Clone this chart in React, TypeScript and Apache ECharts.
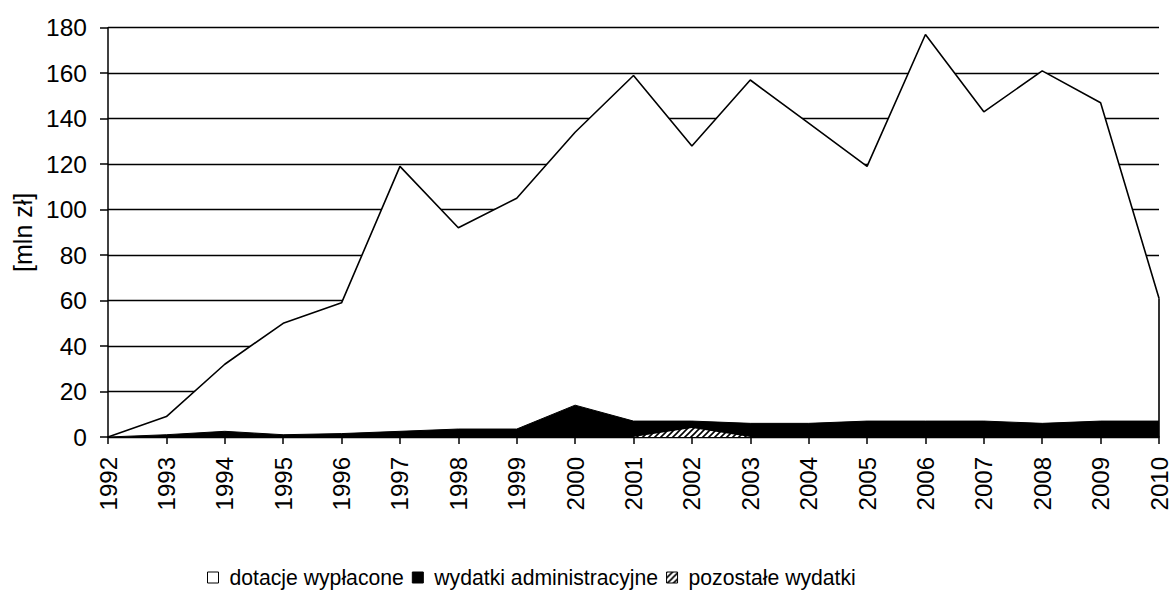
import React, { useEffect, useRef } from "react";
import * as echarts from "echarts";

const years = ["1992","1993","1994","1995","1996","1997","1998","1999","2000","2001","2002","2003","2004","2005","2006","2007","2008","2009","2010"];
const dotacje = [0, 9, 32, 50, 59, 119, 92, 105, 134, 159, 128, 157, 138, 119, 177, 143, 161, 147, 61];
const administracyjne = [0, 1, 2.5, 1, 1.5, 2.5, 3.5, 3.5, 14, 7, 7, 6, 6, 7, 7, 7, 6, 7, 7];
const pozostale = [null, null, null, null, null, null, null, null, null, 0, 4, 0, null, null, null, null, null, null, null];
const yTicks = [0, 20, 40, 60, 80, 100, 120, 140, 160, 180];
const names = ["dotacje wypłacone", "wydatki administracyjne", "pozostałe wydatki"];
const yTitle = "[mln zł]";

function hatchUrl(): string {
  const c = document.createElement("canvas");
  c.width = 6;
  c.height = 6;
  const ctx = c.getContext("2d")!;
  ctx.fillStyle = "#fff";
  ctx.fillRect(0, 0, 6, 6);
  ctx.strokeStyle = "#000";
  ctx.lineWidth = 1.6;
  ctx.beginPath();
  ctx.moveTo(-1, 7);
  ctx.lineTo(7, -1);
  ctx.moveTo(-4, 4);
  ctx.lineTo(4, -4);
  ctx.moveTo(2, 10);
  ctx.lineTo(10, 2);
  ctx.stroke();
  return c.toDataURL();
}

export default function App() {
  const ref = useRef<HTMLDivElement>(null);
  useEffect(() => {
    const chart = echarts.init(ref.current!, undefined, { renderer: "svg" });
    const hatch = { image: hatchUrl(), repeat: "repeat" } as any;
    const font = "'Liberation Sans', Arial, sans-serif";
    const last = years.length - 1;
    chart.setOption({
      animation: false,
      backgroundColor: "#fff",
      textStyle: { fontFamily: font, color: "#000" },
      grid: { left: 108, right: 11, top: 27.7, bottom: 155, containLabel: false },
      legend: {
        left: 207,
        top: 567,
        padding: 0,
        itemWidth: 11,
        itemHeight: 11,
        itemGap: 8,
        textStyle: { fontFamily: font, fontSize: 21.2, color: "#000", padding: [0, 0, 0, 6] },
        data: [
          { name: names[0], icon: "rect", itemStyle: { color: "#fff", borderColor: "#000", borderWidth: 1 } },
          { name: names[1], icon: "rect", itemStyle: { color: "#000", borderColor: "#000", borderWidth: 1 } },
          { name: names[2], icon: "rect", itemStyle: { color: hatch, borderColor: "#000", borderWidth: 1 } },
        ],
      },
      xAxis: {
        type: "category",
        data: years,
        boundaryGap: false,
        axisLine: { lineStyle: { color: "#000", width: 1.5 } },
        axisTick: { show: true, length: 7, lineStyle: { color: "#000", width: 1.5 } },
        axisLabel: { rotate: 90, margin: 20, fontSize: 24, color: "#000", fontFamily: font, interval: 0 },
        splitLine: { show: false },
      },
      yAxis: {
        type: "value",
        min: yTicks[0],
        max: yTicks[yTicks.length - 1],
        interval: 20,
        name: yTitle,
        nameLocation: "middle",
        nameGap: 70,
        nameTextStyle: { fontSize: 25, color: "#000", fontFamily: font },
        axisLine: { show: true, lineStyle: { color: "#000", width: 1.5 } },
        axisTick: { show: true, length: 8, lineStyle: { color: "#000", width: 1.5 } },
        axisLabel: { margin: 21, fontSize: 24.5, color: "#000", fontFamily: font },
        splitLine: { show: true, lineStyle: { color: "#000", width: 1.3 } },
      },
      series: [
        {
          name: names[0],
          type: "line",
          data: dotacje,
          symbol: "none",
          z: 1,
          lineStyle: { color: "#000", width: 1.6 },
          itemStyle: { color: "#fff" },
          areaStyle: { color: "#fff", opacity: 1 },
          markLine: {
            silent: true,
            symbol: "none",
            label: { show: false },
            lineStyle: { color: "#000", width: 1.6, type: "solid" },
            data: [[{ coord: [years[last], 0] }, { coord: [years[last], dotacje[last]] }]],
          },
        },
        {
          name: names[1],
          type: "line",
          data: administracyjne,
          symbol: "none",
          z: 2,
          lineStyle: { color: "#000", width: 1 },
          itemStyle: { color: "#000" },
          areaStyle: { color: "#000", opacity: 1 },
        },
        {
          name: names[2],
          type: "line",
          data: pozostale,
          symbol: "none",
          z: 3,
          lineStyle: { width: 0 },
          itemStyle: { color: hatch },
          areaStyle: { color: hatch, opacity: 1 },
        },
      ],
    });
    return () => chart.dispose();
  }, []);
  return <div ref={ref} style={{ width: 1171, height: 592, position: "absolute", left: 0, top: 0 }} />;
}
